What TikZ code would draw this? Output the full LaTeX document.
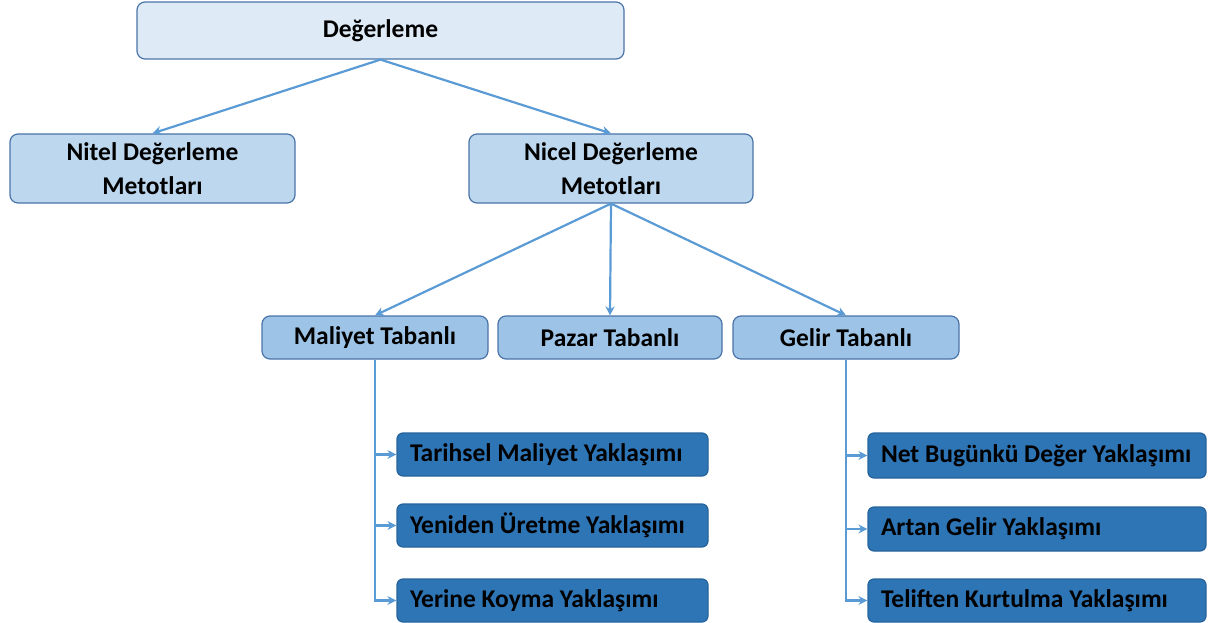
\documentclass[tikz,border=0pt]{standalone}
\usepackage{fontspec}
\setmainfont{Carlito}
\usetikzlibrary{arrows.meta}
\definecolor{lvA}{HTML}{DEEBF7}
\definecolor{lvB}{HTML}{BDD7EE}
\definecolor{lvC}{HTML}{9DC3E6}
\definecolor{lvD}{HTML}{2E75B6}
\definecolor{bord}{HTML}{4A74A8}
\definecolor{conn}{HTML}{5B9BD5}
\tikzset{
  x=1pt,y=-1pt,
  box/.style={draw=bord,line width=1.2pt,rounded corners=8pt,inner sep=0pt,align=center,font=\fontsize{25.5}{34}\selectfont\bfseries},
  darkbox/.style={box,fill=lvD,draw=lvD!85!black,rounded corners=6pt,text width=#1,align=flush left},
  link/.style={draw=conn,line width=2.2pt,-{Stealth[length=9pt,width=9pt]}}
}
\begin{document}
\begin{tikzpicture}
\useasboundingbox (0,0) rectangle (1208,623);
\node[box,fill=lvA,minimum width=487pt,minimum height=57pt] (top) at (380.5,30.5) {Değerleme};
\node[box,fill=lvB,minimum width=285pt,minimum height=69pt] (nitel) at (152.5,168.5) {Nitel Değerleme\\Metotları};
\node[box,fill=lvB,minimum width=284pt,minimum height=69pt] (nicel) at (611,168.5) {Nicel Değerleme\\Metotları};
\node[box,fill=lvC,minimum width=226pt,minimum height=43pt] (mal) at (375,337.5) {Maliyet Tabanlı};
\node[box,fill=lvC,minimum width=224pt,minimum height=43pt] (paz) at (610,337.5) {Pazar Tabanlı};
\node[box,fill=lvC,minimum width=226pt,minimum height=43pt] (gel) at (846,337.5) {Gelir Tabanlı};
\node[darkbox=285pt,minimum width=311pt,minimum height=43pt] (tar) at (552.5,454.5) {Tarihsel Maliyet Yaklaşımı};
\node[darkbox=285pt,minimum width=311pt,minimum height=43pt] (yen) at (552.5,525.5) {Yeniden Üretme Yaklaşımı};
\node[darkbox=285pt,minimum width=311pt,minimum height=43pt] (yer) at (552.5,600.5) {Yerine Koyma Yaklaşımı};
\node[darkbox=312pt,minimum width=338pt,minimum height=45pt] (net) at (1037,455.5) {Net Bugünkü Değer Yaklaşımı};
\node[darkbox=312pt,minimum width=338pt,minimum height=44pt] (art) at (1037,529) {Artan Gelir Yaklaşımı};
\node[darkbox=312pt,minimum width=338pt,minimum height=43pt] (tel) at (1037,600.5) {Teliften Kurtulma Yaklaşımı};
\draw[link] (top.south) -- (nitel.north);
\draw[link] (top.south) -- (nicel.north);
\draw[link] (nicel.south) -- (mal.north);
\draw[link] (nicel.south) -- (paz.north);
\draw[link] (nicel.south) -- (gel.north);
\draw[link] (mal.south) |- (tar.west);
\draw[link] (mal.south) |- (yen.west);
\draw[link] (mal.south) |- (yer.west);
\draw[link] (gel.south) |- (net.west);
\draw[link] (gel.south) |- (art.west);
\draw[link] (gel.south) |- (tel.west);
\end{tikzpicture}
\end{document}
